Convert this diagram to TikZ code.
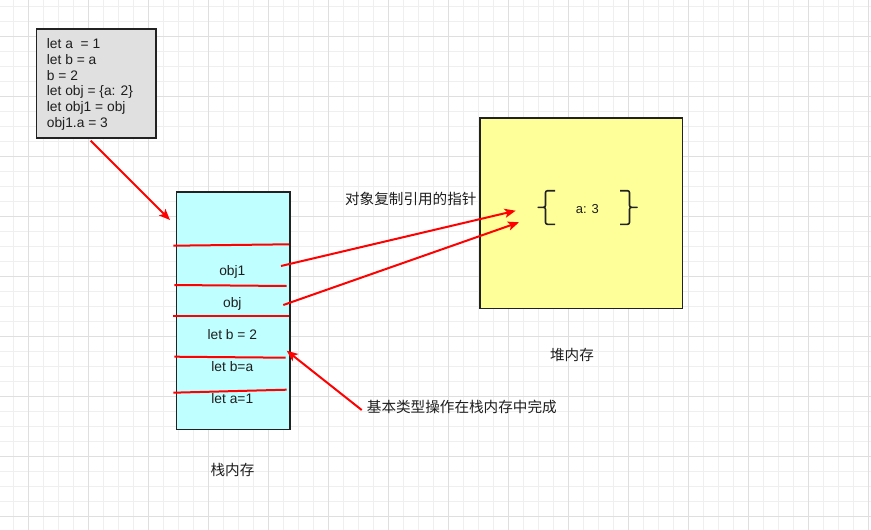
\documentclass[tikz,border=0pt]{standalone}
\usepackage{fontspec}
\setmainfont{Liberation Sans}
\newfontfamily\cjk{Noto Sans CJK SC}
\usetikzlibrary{arrows.meta}
\definecolor{gridminor}{HTML}{EFEFEF}
\definecolor{gridmajor}{HTML}{DFDFDF}
\definecolor{codefill}{HTML}{E0E0E0}
\definecolor{stackfill}{HTML}{C0FFFF}
\definecolor{heapfill}{HTML}{FFFF99}
\definecolor{edge}{HTML}{222222}
\definecolor{txt}{HTML}{1E1E1E}
\definecolor{redline}{HTML}{FF0000}
\tikzset{
  box/.style={draw=edge, line width=1.7pt, inner sep=0pt, anchor=north west},
  codetext/.style={anchor=base west, inner sep=0pt, text=txt, font=\fontsize{13.8}{15}\selectfont},
  stacktext/.style={anchor=base, inner sep=0pt, text=txt, font=\fontsize{13.8}{15}\selectfont},
  cjklabel/.style={inner sep=0pt, text=txt, font=\cjk\fontsize{14.6}{16}\selectfont},
  sep/.style={draw=redline, line width=2pt},
  redarrow/.style={draw=redline, line width=2pt, -{Stealth[length=11pt,width=9pt,inset=2.5pt]}},
  brace/.style={draw=edge, line width=1.6pt, line join=round, rounded corners=2pt}
}
\begin{document}
\begin{tikzpicture}[x=1pt,y=-1pt]
\useasboundingbox (0,0) rectangle (871,530);
\fill[white] (0,0) rectangle (871,530);
% grid
\foreach \k in {0,...,57} \draw[gridminor, line width=1pt] ({13.3+15*\k},0) -- ({13.3+15*\k},530);
\foreach \k in {0,...,34} \draw[gridminor, line width=1pt] (0,{6+15*\k}) -- (871,{6+15*\k});
\foreach \k in {0,...,14} \draw[gridmajor, line width=1pt] ({28.3+60*\k},0) -- ({28.3+60*\k},530);
\foreach \k in {0,...,8} \draw[gridmajor, line width=1pt] (0,{36+60*\k}) -- (871,{36+60*\k});

% code box
\node[box, fill=codefill, minimum width=119.6pt, minimum height=109pt] (codebox) at (35.7,28.3) {};
\node[codetext] (code1) at (46.7,48.5) {let a\ \ = 1};
\node[codetext] (code2) at (46.7,64.3) {let b = a};
\node[codetext] (code3) at (46.7,80.1) {b = 2};
\node[codetext] (code4) at (46.7,95.9) {let obj = \{a: 2\}};
\node[codetext] (code5) at (46.7,111.7) {let obj1 = obj};
\node[codetext] (code6) at (46.7,127.5) {obj1.a = 3};

% stack
\node[box, fill=stackfill, minimum width=113.3pt, minimum height=237.7pt] (stack) at (175.7,191) {};
\draw[sep] (173.3,245.7) -- (289,244.3);
\draw[sep] (174.3,285) -- (286.7,286);
\draw[sep] (173.3,315.7) -- (289,315.7);
\draw[sep] (174.3,356.7) -- (285.7,357.7);
\draw[sep] (173.3,392.7) -- (286.7,389.7);
\node[stacktext] (sobj1) at (232.3,275) {obj1};
\node[stacktext] (sobj) at (232.3,307) {obj};
\node[stacktext] (sb2) at (232.3,339.5) {let b = 2};
\node[stacktext] (sba) at (232.3,371.2) {let b=a};
\node[stacktext] (sa1) at (232.3,403.5) {let a=1};
\node[cjklabel] (stacklabel) at (232.5,469.5) {栈内存};

% heap
\node[box, fill=heapfill, minimum width=202.7pt, minimum height=190.4pt] (heap) at (479,117.3) {};
\draw[brace] (555,190.7) -- (545.5,190.7) -- (545.5,207.3) -- (537,207.3) -- (545.5,207.3) -- (545.5,224.3) -- (555,224.3);
\draw[brace] (620,190.7) -- (629.5,190.7) -- (629.5,207.3) -- (638.3,207.3) -- (629.5,207.3) -- (629.5,224.3) -- (620,224.3);
\node[inner sep=0pt, text=txt, font=\fontsize{13}{15}\selectfont, anchor=base] (aval) at (587.3,213.5) {a: 3};
\node[cjklabel] (heaplabel) at (572,355) {堆内存};

% labels
\node[cjklabel] (ptrlabel) at (410.8,199.3) {对象复制引用的指针};
\node[cjklabel, anchor=west] (baselabel) at (366.7,407.3) {基本类型操作在栈内存中完成};

% arrows
\coordinate (codeout) at (90.7,140.7);
\coordinate (stackin) at (170,220);
\coordinate (obj1out) at (281,266);
\coordinate (objout) at (283.3,305);
\coordinate (heapin1) at (515.7,210.7);
\coordinate (heapin2) at (519,222.3);
\coordinate (basefrom) at (361.7,410);
\coordinate (stackto) at (286.7,350.7);
\draw[redarrow] (codeout) -- (stackin);
\draw[redarrow] (obj1out) -- (heapin1);
\draw[redarrow] (objout) -- (heapin2);
\draw[redarrow] (basefrom) -- (stackto);
\end{tikzpicture}
\end{document}
